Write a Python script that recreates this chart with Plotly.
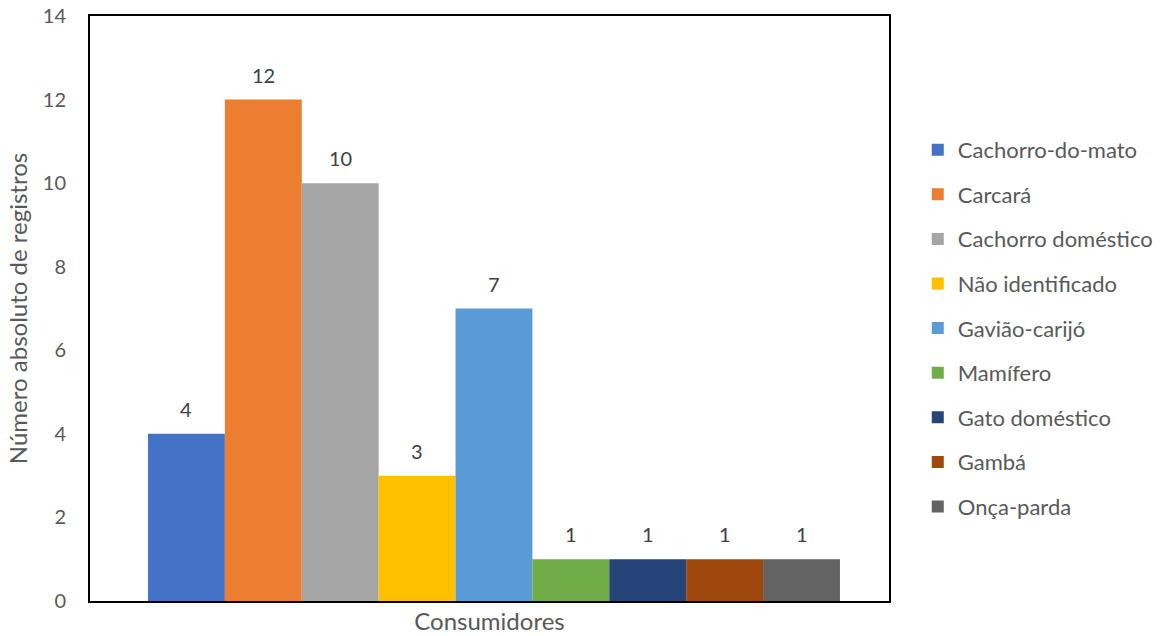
import plotly.graph_objects as go

categories = ["Consumidores"]
species = ["Cachorro-do-mato", "Carcará", "Cachorro doméstico", "Não identificado",
           "Gavião-carijó", "Mamífero", "Gato doméstico", "Gambá", "Onça-parda"]
values = [4, 12, 10, 3, 7, 1, 1, 1, 1]
colors = ["#4472C4", "#ED7D31", "#A5A5A5", "#FFC000", "#5B9BD5",
          "#70AD47", "#264478", "#9E480E", "#636363"]
y_ticks = [0, 2, 4, 6, 8, 10, 12, 14]

FONT = "Lato, 'Open Sans', sans-serif"
TXT = "#595959"
BARGAP = 0.134
XRANGE = [-0.5056, 0.4944]

fig = go.Figure()
n = len(species)
w = (1 - BARGAP) / n
for i, (name, v, c) in enumerate(zip(species, values, colors)):
    fig.add_trace(go.Bar(
        x=categories, y=[v], name=name, marker=dict(color=c, line=dict(width=0)),
        legendgroup=name,
    ))
    # data label above each bar, anchored to the bar's data position
    fig.add_annotation(
        x=-0.5 + BARGAP / 2 + (i + 0.5) * w, y=v, xref="x", yref="y",
        text=str(v), showarrow=False, yanchor="middle", yshift=25,
        font=dict(size=20, color="#404040", family=FONT),
    )

fig.update_layout(
    width=1167, height=636,
    margin=dict(l=90, r=278, t=16, b=35, autoexpand=False),
    paper_bgcolor="white", plot_bgcolor="white",
    barmode="group", bargap=BARGAP, bargroupgap=0,
    font=dict(family=FONT, color=TXT, size=18),
    showlegend=True,
    legend=dict(x=1.036, xref="paper", xanchor="left", y=0.466, yanchor="middle",
                font=dict(size=22, color=TXT, family=FONT),
                tracegroupgap=13, itemwidth=30, traceorder="grouped"),
    xaxis=dict(showticklabels=False, showline=True, linecolor="black", linewidth=2,
               mirror=True, ticks="", range=XRANGE, automargin=False,
               title=dict(text="Consumidores", font=dict(size=24, color=TXT), standoff=11)),
    yaxis=dict(range=[0, 14], tickvals=y_ticks, showgrid=False, zeroline=False,
               showline=True, linecolor="black", linewidth=2, mirror=True, ticks="",
               tickfont=dict(size=20, color=TXT), ticklabelstandoff=18, automargin=False,
               title=dict(text="Número absoluto de registros", font=dict(size=24, color=TXT), standoff=8)),
)

fig.write_html("out.html")
